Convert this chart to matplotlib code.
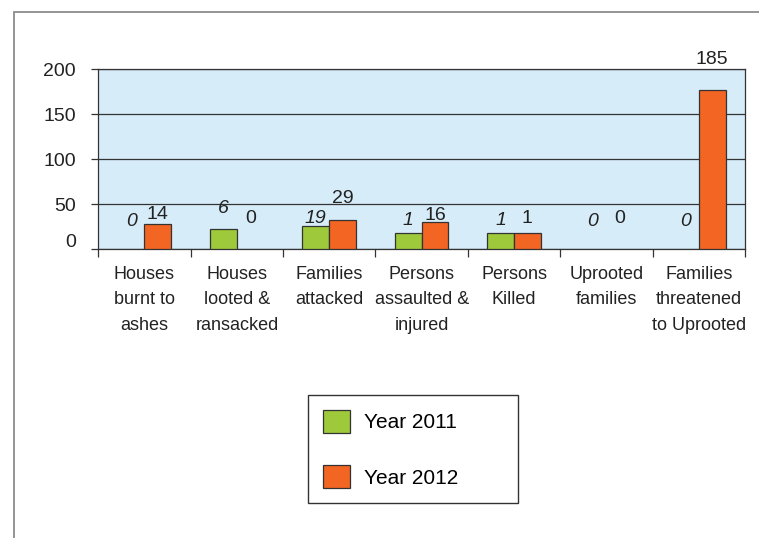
import matplotlib
matplotlib.use("Agg")
import matplotlib.pyplot as plt
import matplotlib.transforms as mtransforms
import numpy as np

# -------------------------------------------------------
# data
categories = ["Houses\nburnt to\nashes", "Houses\nlooted &\nransacked", "Families\nattacked",
              "Persons\nassaulted &\ninjured", "Persons\nKilled", "Uprooted\nfamilies",
              "Families\nthreatened\nto Uprooted"]
labels_2011 = [0, 6, 19, 1, 1, 0, 0]
labels_2012 = [14, 0, 29, 16, 1, 0, 185]
# bar heights as drawn in the source (they don't follow the printed numbers)
bars_2011 = [0, 22, 26, 18, 18, 0, 0]
bars_2012 = [28, 0, 33, 30, 18, 0, 177]
y_ticks = [0, 50, 100, 150, 200]
# -------------------------------------------------------

# how far each printed number sits above its bar, in points
lift_2011 = [17, 12, 2, 5.5, 5.5, 17, 17]
lift_2012 = [4, 19, 12, 1.5, 7.5, 19, 19]

plt.rcParams['font.family'] = ["Liberation Sans", "DejaVu Sans"]
fs = 14

green = "#9dc93b"
orange = "#f26522"
dark = "#333333"
txt = "#222222"

fig = plt.figure(figsize=(7.59, 5.38), dpi=100)
ax = fig.add_axes([98.3 / 759, 1 - 249.3 / 538, (745 - 98.3) / 759, 180 / 538])
ax.set_facecolor("#d6ecf8")

x = np.arange(len(categories))
w = 0.29
b1 = ax.bar(x - w, bars_2011, w, align='edge', color=green, edgecolor=dark, linewidth=0.9,
            label='Year 2011', zorder=3)
b2 = ax.bar(x, bars_2012, w, align='edge', color=orange, edgecolor=dark, linewidth=0.9,
            label='Year 2012', zorder=3)

for i in range(len(categories)):
    ax.annotate(str(labels_2011[i]), (x[i] - w / 2, bars_2011[i]), xytext=(0, lift_2011[i]),
                textcoords='offset points', ha='center', va='baseline', fontsize=fs,
                style='italic', color=txt)
    ax.annotate(str(labels_2012[i]), (x[i] + w / 2, bars_2012[i]), xytext=(0, lift_2012[i]),
                textcoords='offset points', ha='center', va='baseline', fontsize=fs,
                color=txt, annotation_clip=False)

ax.set_xlim(-0.5, len(categories) - 0.5)
ax.set_ylim(0, 200)
ax.set_yticks(y_ticks)
ax.set_yticklabels([str(v) for v in y_ticks], fontsize=fs, color=txt)
ax.tick_params(axis='y', length=5, width=0.9, color=dark, pad=11)
ax.yaxis.grid(True, color=dark, linewidth=0.9, zorder=1)
ax.set_axisbelow(True)

# category boundaries get the tick marks, names sit between them
ax.set_xticks(np.arange(-0.5, len(categories), 1.0))
ax.set_xticklabels([])
ax.tick_params(axis='x', which='major', length=6, width=0.9, color=dark)
ax.set_xticks(x, minor=True)
ax.set_xticklabels(categories, minor=True, fontsize=13, color=txt, linespacing=1.65)
ax.tick_params(axis='x', which='minor', length=0, pad=12)

for s in ax.spines.values():
    s.set_color(dark)
    s.set_linewidth(0.9)

# the "0" label sits a little high in the original
lbl0 = ax.get_yticklabels()[0]
lbl0.set_transform(lbl0.get_transform() + mtransforms.ScaledTranslation(0, 9 / 100, fig.dpi_scale_trans))

fig.legend(loc='upper left', bbox_to_anchor=(308 / 759, 1 - 503 / 538, 210 / 759, 108 / 538),
           mode='expand', borderaxespad=0, fontsize=15, fancybox=False, framealpha=1,
           edgecolor=dark, handlelength=1.3, handleheight=1.3, labelspacing=1.58,
           borderpad=0.71, handletextpad=0.7)

# zero bars leave no outline in the original (after the legend took its handles)
for p in list(b1) + list(b2):
    if p.get_height() == 0:
        p.set_visible(False)

# grey frame around the whole picture
fig.patches.append(plt.Rectangle((14 / 759, -0.1), 1.1, 1 - 12 / 538 + 0.1,
                                 transform=fig.transFigure, fill=False,
                                 edgecolor='#8c8c8c', linewidth=1.3))

fig.savefig("out.png", dpi=100)
